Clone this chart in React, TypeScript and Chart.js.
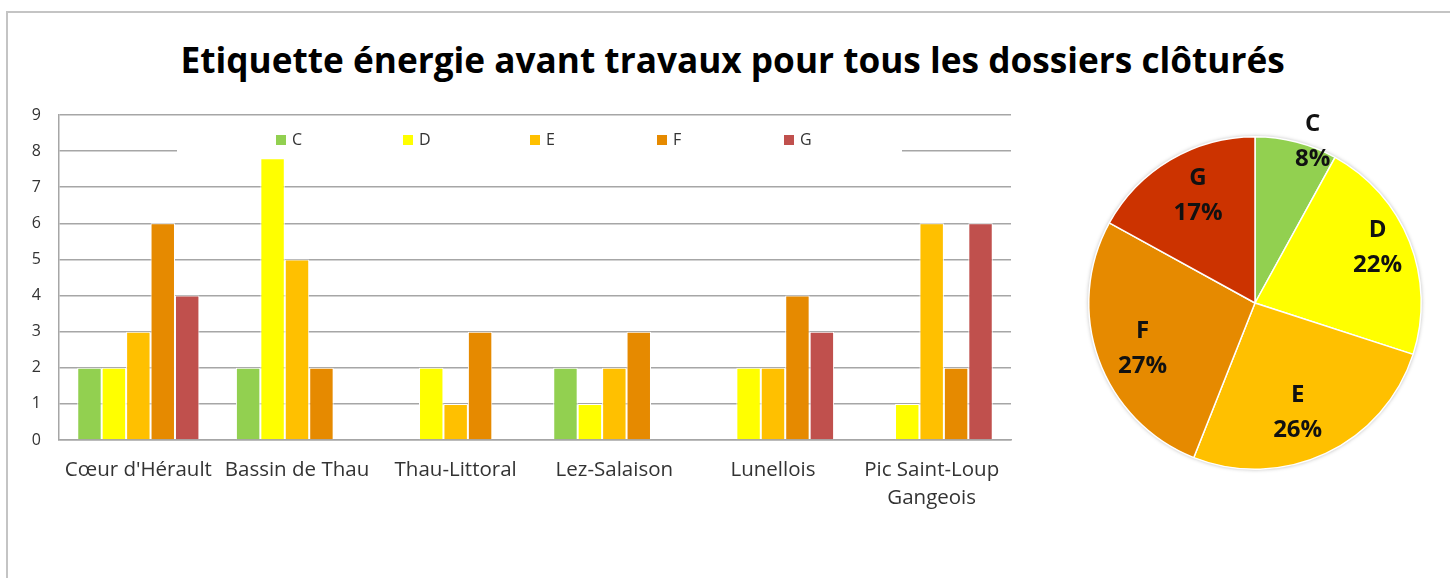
import React, { useEffect, useRef } from 'react';
import { Chart, registerables } from 'chart.js';

Chart.register(...registerables);

// ---- Data ----
const categories: (string | string[])[] = [
  "Cœur d'Hérault",
  'Bassin de Thau',
  'Thau-Littoral',
  'Lez-Salaison',
  'Lunellois',
  ['Pic Saint-Loup', 'Gangeois'],
];
const seriesNames = ['C', 'D', 'E', 'F', 'G'];
const valuesC = [2, 2, null, 2, null, null];
const valuesD = [2, 7.8, 2, 1, 2, 1];
const valuesE = [3, 5, 1, 2, 2, 6];
const valuesF = [6, 2, 3, 3, 4, 2];
const valuesG = [4, null, null, null, 3, 6];
const yMin = 0;
const yMax = 9;
const yStep = 1;

const pieLabels = ['C', 'D', 'E', 'F', 'G'];
const piePercents = [8, 22, 26, 27, 17];

const titleText = 'Etiquette énergie avant travaux pour tous les dossiers clôturés';

// ---- Styles ----
const barColors = ['#92D050', '#FFFF00', '#FFC000', '#E68A00', '#C0504D'];
const pieColors = ['#92D050', '#FFFF00', '#FFC000', '#E68A00', '#CC3300'];
const pieLabelRadius = [1.03, 0.81, 0.71, 0.73, 0.73];
const pieLabelAngleShiftDeg = [5.3, -2.9, 4.0, -2.2, 2.6];
const TITLE_WIDTH = 1104;
const FONT = '"Open Sans", "DejaVu Sans", sans-serif';
const TEXT_GRAY = '#333333';

const overlayLegend = {
  id: 'overlayLegend',
  beforeDatasetsDraw(chart: any) {
    const ctx = chart.ctx as CanvasRenderingContext2D;
    ctx.save();
    ctx.fillStyle = '#ffffff';
    ctx.fillRect(177, 124, 725, 34);
    ctx.font = `16px ${FONT}`;
    ctx.textBaseline = 'middle';
    ctx.textAlign = 'left';
    chart.data.datasets.forEach((ds: any, i: number) => {
      const x = 276 + i * 127;
      ctx.fillStyle = ds.backgroundColor;
      ctx.fillRect(x, 135, 10, 10);
      ctx.fillStyle = TEXT_GRAY;
      ctx.fillText(ds.label, x + 16, 140);
    });
    ctx.restore();
  },
};

const pieShadow = {
  id: 'pieShadow',
  beforeDatasetsDraw(chart: any) {
    const arc = chart.getDatasetMeta(0).data[0];
    if (!arc) return;
    const { x, y, outerRadius } = arc.getProps(['x', 'y', 'outerRadius'], true);
    const ctx = chart.ctx as CanvasRenderingContext2D;
    ctx.save();
    ctx.shadowColor = 'rgba(0,0,0,0.35)';
    ctx.shadowBlur = 4;
    ctx.fillStyle = '#ffffff';
    ctx.beginPath();
    ctx.arc(x, y, outerRadius, 0, Math.PI * 2);
    ctx.fill();
    ctx.restore();
  },
};

const pieValueLabels = {
  id: 'pieValueLabels',
  afterDatasetsDraw(chart: any) {
    const ctx = chart.ctx as CanvasRenderingContext2D;
    const meta = chart.getDatasetMeta(0);
    const total = (chart.data.datasets[0].data as number[]).reduce((a, b) => a + b, 0);
    ctx.save();
    ctx.font = `bold 24px ${FONT}`;
    ctx.fillStyle = '#111111';
    ctx.textAlign = 'center';
    ctx.textBaseline = 'middle';
    meta.data.forEach((arc: any, i: number) => {
      const { x, y, startAngle, endAngle, outerRadius } = arc.getProps(
        ['x', 'y', 'startAngle', 'endAngle', 'outerRadius'],
        true
      );
      const mid = (startAngle + endAngle) / 2 + (pieLabelAngleShiftDeg[i] * Math.PI) / 180;
      const r = outerRadius * pieLabelRadius[i];
      const cx = x + Math.cos(mid) * r;
      const cy = y + Math.sin(mid) * r;
      const v = chart.data.datasets[0].data[i] as number;
      const pct = Math.round((v / total) * 100);
      ctx.fillText(chart.data.labels[i], cx, cy - 17.5);
      ctx.fillText(`${pct}%`, cx, cy + 17.5);
    });
    ctx.restore();
  },
};

export default function App() {
  const barRef = useRef<HTMLCanvasElement>(null);
  const pieRef = useRef<HTMLCanvasElement>(null);
  const titleRef = useRef<HTMLSpanElement>(null);

  useEffect(() => {
    const seriesValues = [valuesC, valuesD, valuesE, valuesF, valuesG];
    const bar = new Chart(barRef.current!, {
      type: 'bar',
      data: {
        labels: categories as any,
        datasets: seriesNames.map((name, i) => ({
          label: name,
          data: seriesValues[i] as any,
          backgroundColor: barColors[i],
          borderColor: '#ffffff',
          borderWidth: 1,
          categoryPercentage: 0.77,
          barPercentage: 1,
        })),
      },
      options: {
        responsive: false,
        maintainAspectRatio: false,
        animation: false,
        layout: { padding: { top: 115, right: 49, left: 0, bottom: 0 } },
        plugins: {
          legend: { display: false },
          title: { display: false },
          tooltip: { enabled: false },
        },
        scales: {
          x: {
            grid: { display: false, drawTicks: false },
            border: { display: true, color: '#a6a6a6', width: 1.5 },
            ticks: {
              font: { family: FONT, size: 20.5, lineHeight: 1.37 },
              color: TEXT_GRAY,
              padding: 16,
              maxRotation: 0,
              autoSkip: false,
            },
            afterFit: (s: any) => {
              s.height = 138;
            },
          },
          y: {
            min: yMin,
            max: yMax,
            ticks: {
              stepSize: yStep,
              font: { family: FONT, size: 16 },
              color: TEXT_GRAY,
              padding: 18,
            },
            grid: { color: '#a6a6a6', lineWidth: 1.5, drawTicks: false },
            border: { display: true, color: '#a6a6a6', width: 1.5 },
            afterFit: (s: any) => {
              s.width = 59;
            },
          },
        },
      },
      plugins: [overlayLegend],
    });

    const pie = new Chart(pieRef.current!, {
      type: 'pie',
      data: {
        labels: pieLabels,
        datasets: [
          {
            data: piePercents,
            backgroundColor: pieColors,
            borderColor: '#ffffff',
            borderWidth: 1.5,
          },
        ],
      },
      options: {
        responsive: false,
        maintainAspectRatio: false,
        animation: false,
        layout: { padding: 23 },
        plugins: {
          legend: { display: false },
          tooltip: { enabled: false },
        },
      },
      plugins: [pieShadow, pieValueLabels],
    });

    const t = titleRef.current;
    if (t) {
      const w = t.offsetWidth;
      if (w > 0) t.style.transform = `scaleX(${TITLE_WIDTH / w})`;
    }

    return () => {
      bar.destroy();
      pie.destroy();
    };
  }, []);

  return (
    <div
      style={{
        position: 'absolute',
        left: 0,
        top: 0,
        width: 1450,
        height: 578,
        overflow: 'hidden',
        background: '#ffffff',
      }}
    >
      <div
        style={{
          position: 'absolute',
          left: 6,
          top: 11,
          width: 1470,
          height: 700,
          border: '2px solid #c4c4c4',
          boxSizing: 'border-box',
        }}
      />
      <div
        style={{
          position: 'absolute',
          left: 0,
          top: 42,
          width: 1466,
          height: 36,
          textAlign: 'center',
          lineHeight: '36px',
        }}
      >
        <span
          ref={titleRef}
          style={{
            display: 'inline-block',
            fontFamily: FONT,
            fontWeight: 700,
            fontSize: 36,
            whiteSpace: 'nowrap',
            color: '#000000',
          }}
        >
          {titleText}
        </span>
      </div>
      <canvas
        ref={barRef}
        width={1060}
        height={578}
        style={{ position: 'absolute', left: 0, top: 0, width: 1060, height: 578 }}
      />
      <canvas
        ref={pieRef}
        width={380}
        height={380}
        style={{ position: 'absolute', left: 1065, top: 113, width: 380, height: 380 }}
      />
    </div>
  );
}
